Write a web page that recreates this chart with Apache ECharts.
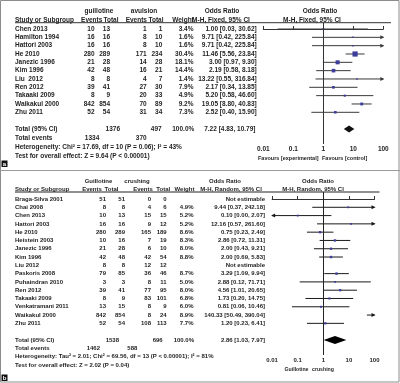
<!DOCTYPE html>
<html><head><meta charset="utf-8">
<script src="https://cdn.jsdelivr.net/npm/echarts@6/dist/echarts.min.js"></script>
<style>html,body{margin:0;padding:0;background:#fff}#c{width:400px;height:383px}</style>
</head><body><div id="c"></div>
<script>
// ---------- Panel a: guillotine vs avulsion ----------
const studiesA = ['Chen 2013','Hamilton 1994','Hattori 2003','He 2010','Janezic 1996','Kim 1996','Liu  2012','Ren 2012','Takaaki 2009','Waikakul 2000','Zhu 2011'];
const evGA  = [10,16,16,280,21,42,8,39,8,842,52];
const totGA = [13,16,16,289,28,48,8,41,9,854,54];
const evAA  = [1,8,8,171,14,16,4,27,20,70,31];
const totAA = [1,10,10,234,28,21,7,30,33,89,34];
const wA    = [3.4,1.6,1.6,30.4,18.1,14.4,1.4,7.9,4.9,9.2,7.3];
const orA   = [1.00,9.71,9.71,11.46,3.00,2.19,13.22,2.17,5.20,19.05,2.52];
const loA   = [0.03,0.42,0.42,5.56,0.97,0.58,0.55,0.34,0.58,8.80,0.40];
const hiA   = [30.62,225.84,225.84,23.84,9.30,8.18,316.84,13.85,46.60,40.83,15.90];
const totalA = {or:7.22, lo:4.83, hi:10.79, nG:1376, nA:497, evG:1334, evA:370};
const hetA = 'Heterogeneity: Chi² = 17.69, df = 10 (P = 0.06); I² = 43%';
const testA = 'Test for overall effect: Z = 9.64 (P < 0.00001)';

// ---------- Panel b: guillotine vs crushing ----------
const studiesB = ['Braga-Silva 2001','Chai 2008','Chen 2013','Hattori 2003','He 2010','Heistein 2003','Janezic 1996','Kim 1996','Liu 2012','Paskoris 2008','Puhaindran 2010','Ren 2012','Takaaki 2009','Venkatramani 2011','Waikakul 2000','Zhu 2011'];
const evGB  = [51,8,10,16,280,10,21,42,8,79,3,39,8,13,842,52];
const totGB = [51,8,13,16,289,16,28,48,8,85,3,41,9,15,854,54];
const evCB  = [0,4,15,9,165,7,6,42,12,36,8,77,83,8,8,108];
const totCB = [0,6,15,12,189,19,10,54,12,46,11,95,101,9,24,113];
const wB    = [null,4.9,5.2,5.2,8.6,8.3,8.0,8.8,null,8.7,5.0,8.0,6.8,6.0,8.9,7.7];
const orB   = [null,9.44,0.10,12.16,0.75,2.86,2.00,2.00,null,3.29,2.88,4.56,1.73,0.81,140.33,1.20];
const loB   = [null,0.37,0.00,0.57,0.23,0.72,0.43,0.69,null,1.09,0.12,1.01,0.20,0.06,50.49,0.23];
const hiB   = [null,242.18,2.07,261.60,2.49,11.31,9.21,5.83,null,9.94,71.71,20.65,14.75,10.46,390.04,6.41];
const totalB = {or:2.86, lo:1.03, hi:7.97, nG:1538, nC:696, evG:1462, evC:588};
const hetB = 'Heterogeneity: Tau² = 2.01; Chi² = 69.56, df = 13 (P < 0.00001); I² = 81%';
const testB = 'Test for overall effect: Z = 2.02 (P = 0.04)';

const tickVals = [0.01,0.1,1,10,100];
const tickLabels = ['0.01','0.1','1','10','100'];

// ---------- layout ----------
const A = {first:29, step:8.33, top:22.7, bottom:144, left:263.3, right:383.3};
const B = {first:199, step:8.29, top:192, bottom:355, left:272.1, right:374.5};
const fA = 'bold 6.5px "Liberation Sans", Arial, sans-serif';
const fA2 = 'bold 5.5px "Liberation Sans", Arial, sans-serif';
const fB = 'bold 6px "Liberation Sans Narrow", "Liberation Sans", Arial, sans-serif';
const fB2 = 'bold 5.2px "Liberation Sans Narrow", "Liberation Sans", Arial, sans-serif';
const txtCol = '#1e1e1e';

function fmt2(v){ return v.toFixed(2); }
function ciText(o,l,h){ return fmt2(o)+' ['+fmt2(l)+', '+fmt2(h)+']'; }

const G = [];
function T(x,y,text,font,align,col){
  G.push({type:'text', x:x, y:y, silent:true, z:10,
    style:{text:String(text), font:font, fill:col||txtCol, align:align||'left', verticalAlign:'middle'}});
}
function L(x1,y1,x2,y2,col,w){
  G.push({type:'line', silent:true, z:5, shape:{x1:x1,y1:y1,x2:x2,y2:y2}, style:{stroke:col||'#333', lineWidth:w||1}});
}

// frame
G.push({type:'rect', silent:true, shape:{x:0.5,y:0.5,width:398.5,height:381.5}, style:{fill:'none', stroke:'#8c8c8c', lineWidth:1}});
L(0,170.5,400,170.5,'#9a9a9a',1);

// panel a header
T(99,11.7,'guillotine',fA,'center');
T(144,11.7,'avulsion',fA,'center');
T(222,11.7,'Odds Ratio',fA,'center');
T(320,11.7,'Odds Ratio',fA,'center');
T(15,19.8,'Study or Subgroup',fA,'left');
T(91.7,19.8,'Events',fA,'center');
T(111,19.8,'Total',fA,'center');
T(136.3,19.8,'Events',fA,'center');
T(156,19.8,'Total',fA,'center');
T(183,19.8,'Weight',fA,'center');
T(221,19.8,'M-H, Fixed, 95% CI',fA,'center');
T(312,19.8,'M-H, Fixed, 95% CI',fA,'center');
L(15,22.7,391,22.7,'#333',1);
studiesA.forEach((s,i)=>{
  const y = A.first + A.step*i;
  T(15,y,s,fA,'left');
  T(94.5,y,evGA[i],fA,'right');
  T(110,y,totGA[i],fA,'right');
  T(146.7,y,evAA[i],fA,'right');
  T(162.3,y,totAA[i],fA,'right');
  T(193.5,y,wA[i].toFixed(1)+'%',fA,'right');
  T(256.7,y,ciText(orA[i],loA[i],hiA[i]),fA,'right');
});
T(15,129,'Total (95% CI)',fA,'left');
T(120,129,totalA.nG,fA,'right');
T(161.7,129,totalA.nA,fA,'right');
T(194.3,129,'100.0%',fA,'right');
T(255.5,129,ciText(totalA.or,totalA.lo,totalA.hi),fA,'right');
T(15,138.2,'Total events',fA,'left');
T(99.3,138.2,totalA.evG,fA,'right');
T(146.7,138.2,totalA.evA,fA,'right');
T(15,147.2,hetA,fA,'left');
T(15,156,testA,fA,'left');
T(318.5,158.3,'Favours [experimental]',fA2,'right');
T(322,158.3,'Favours [control]',fA2,'left');
G.push({type:'rect', silent:true, shape:{x:1.5,y:160.5,width:6,height:6.5}, style:{fill:'#111'}});
T(4.5,163.9,'a','bold 6px "Liberation Sans", Arial','center','#fff');

// panel b header
T(98.5,181.3,'Guillotine',fB,'center');
T(137,181.3,'crushing',fB,'center');
T(225,181.8,'Odds Ratio',fB,'center');
T(318,181.8,'Odds Ratio',fB,'center');
T(15,189.8,'Study or Subgroup',fB,'left');
T(92,189.8,'Events',fB,'center');
T(111.5,189.8,'Total',fB,'center');
T(143,189.8,'Events',fB,'center');
T(163.3,189.8,'Total',fB,'center');
T(184.5,189.8,'Weight',fB,'center');
T(231,189.8,'M-H, Random, 95% CI',fB,'center');
T(313,189.8,'M-H, Random, 95% CI',fB,'center');
L(15,192,379.5,192,'#222',1);
studiesB.forEach((s,i)=>{
  const y = B.first + B.step*i;
  T(15,y,s,fB,'left');
  T(106,y,evGB[i],fB,'right');
  T(125,y,totGB[i],fB,'right');
  T(151,y,evCB[i],fB,'right');
  T(166.7,y,totCB[i],fB,'right');
  if (wB[i]!==null) T(193.5,y,wB[i].toFixed(1)+'%',fB,'right');
  T(265,y,orB[i]===null?'Not estimable':ciText(orB[i],loB[i],hiB[i]),fB,'right');
});
T(15,340,'Total (95% CI)',fB,'left');
T(119,340,totalB.nG,fB,'right');
T(162.7,340,totalB.nC,fB,'right');
T(194,340,'100.0%',fB,'right');
T(265,340,ciText(totalB.or,totalB.lo,totalB.hi),fB,'right');
T(15,348.3,'Total events',fB,'left');
T(100,348.3,totalB.evG,fB,'right');
T(137.3,348.3,totalB.evC,fB,'right');
T(15,356.7,hetB,fB,'left');
T(15,365,testB,fB,'left');
T(308.5,369.3,'Guillotine',fB2,'right');
T(312,369.3,'crushing',fB2,'left');
G.push({type:'rect', silent:true, shape:{x:1.5,y:374.5,width:6,height:6.5}, style:{fill:'#111'}});
T(4.5,377.9,'b','bold 6px "Liberation Sans", Arial','center','#fff');

// ---------- plotting ----------
const XMIN = 0.01, XMAX = 100;
function ciRenderer(lineCol, sqCol, sqFn){
  return function(params, api){
    const est = api.value(0), row = api.value(1), lo = api.value(2), hi = api.value(3), w = api.value(4);
    const p1 = api.coord([Math.max(lo,XMIN), row]);
    const p2 = api.coord([Math.min(hi,XMAX), row]);
    const ch = [{type:'line', shape:{x1:p1[0],y1:p1[1],x2:p2[0],y2:p2[1]}, style:{stroke:lineCol, lineWidth:1}}];
    if (hi > XMAX) ch.push({type:'polygon', shape:{points:[[p2[0]+1,p2[1]],[p2[0]-3,p2[1]-2],[p2[0]-3,p2[1]+2]]}, style:{fill:lineCol}});
    if (lo < XMIN) ch.push({type:'polygon', shape:{points:[[p1[0]-1,p1[1]],[p1[0]+3,p1[1]-2],[p1[0]+3,p1[1]+2]]}, style:{fill:lineCol}});
    if (est >= XMIN && est <= XMAX) {
      const c = api.coord([est,row]); const s = sqFn(w);
      ch.push({type:'rect', shape:{x:c[0]-s/2, y:c[1]-s/2, width:s, height:s}, style:{fill:sqCol}});
    }
    return {type:'group', children:ch};
  };
}
function diamondRenderer(col, h){
  return function(params, api){
    const c = api.coord([api.value(0), api.value(1)]);
    const l = api.coord([api.value(2), api.value(1)]);
    const r = api.coord([api.value(3), api.value(1)]);
    return {type:'polygon', shape:{points:[[l[0],c[1]],[c[0],c[1]-h],[r[0],c[1]],[c[0],c[1]+h]]}, style:{fill:col}};
  };
}
const dataA = orA.map((o,i)=>[o,i,loA[i],hiA[i],wA[i]]);
const dataB = [];
orB.forEach((o,i)=>{ if(o!==null) dataB.push([o,i,loB[i],hiB[i],wB[i]]); });

function yRange(P){ return [(P.top-P.first)/P.step, (P.bottom-P.first)/P.step]; }
const yrA = yRange(A), yrB = yRange(B);

function xAx(gi, fs){
  return {type:'log', logBase:10, min:XMIN, max:XMAX, gridIndex:gi,
    axisLine:{lineStyle:{color:'#333', width:1}},
    axisTick:{show:true, inside:true, length:3, lineStyle:{color:'#333'}},
    minorTick:{show:false}, splitLine:{show:false},
    axisLabel:{fontSize:fs, fontWeight:'bold', fontFamily:'"Liberation Sans", Arial', color:txtCol, margin:2,
      formatter:function(v){ const k = Math.round(Math.log10(v)) + 2; return tickLabels[k] || ''; }}};
}
function yAx(gi, yr){ return {type:'value', inverse:true, min:yr[0], max:yr[1], gridIndex:gi, show:false, splitLine:{show:false}}; }
const mline = (col)=>({silent:true, symbol:['none','none'], label:{show:false}, animation:false,
  lineStyle:{color:col, width:1, type:'solid'}, data:[{xAxis:1}]});

const option = {
  animation:false,
  grid:[
    {left:A.left, width:A.right-A.left, top:A.top, height:A.bottom-A.top},
    {left:B.left, width:B.right-B.left, top:B.top, height:B.bottom-B.top}
  ],
  xAxis:[xAx(0,6.5), xAx(1,6)],
  yAxis:[yAx(0,yrA), yAx(1,yrB)],
  graphic:G,
  series:[
    {type:'custom', xAxisIndex:0, yAxisIndex:0, clip:false, encode:{x:0,y:1}, data:dataA,
     renderItem:ciRenderer('#3a3a3a','#3d3d9c', w=>Math.max(1.5, 5.2*Math.sqrt(w/30.4))), markLine:mline('#333')},
    {type:'custom', xAxisIndex:0, yAxisIndex:0, clip:false, encode:{x:0,y:1},
     data:[[totalA.or,12,totalA.lo,totalA.hi]], renderItem:diamondRenderer('#111',3.5)},
    {type:'custom', xAxisIndex:1, yAxisIndex:1, clip:false, encode:{x:0,y:1}, data:dataB,
     renderItem:ciRenderer('#1a1a1a','#3d3d9c', w=>Math.max(1.5, 2.4*Math.sqrt(w/8.8))), markLine:mline('#222')},
    {type:'custom', xAxisIndex:1, yAxisIndex:1, clip:false, encode:{x:0,y:1},
     data:[[totalB.or,17,totalB.lo,totalB.hi]], renderItem:diamondRenderer('#000',4)}
  ]
};
const chart = echarts.init(document.getElementById('c'), null, {renderer:'canvas'});
chart.setOption(option);
</script>
</body></html>
